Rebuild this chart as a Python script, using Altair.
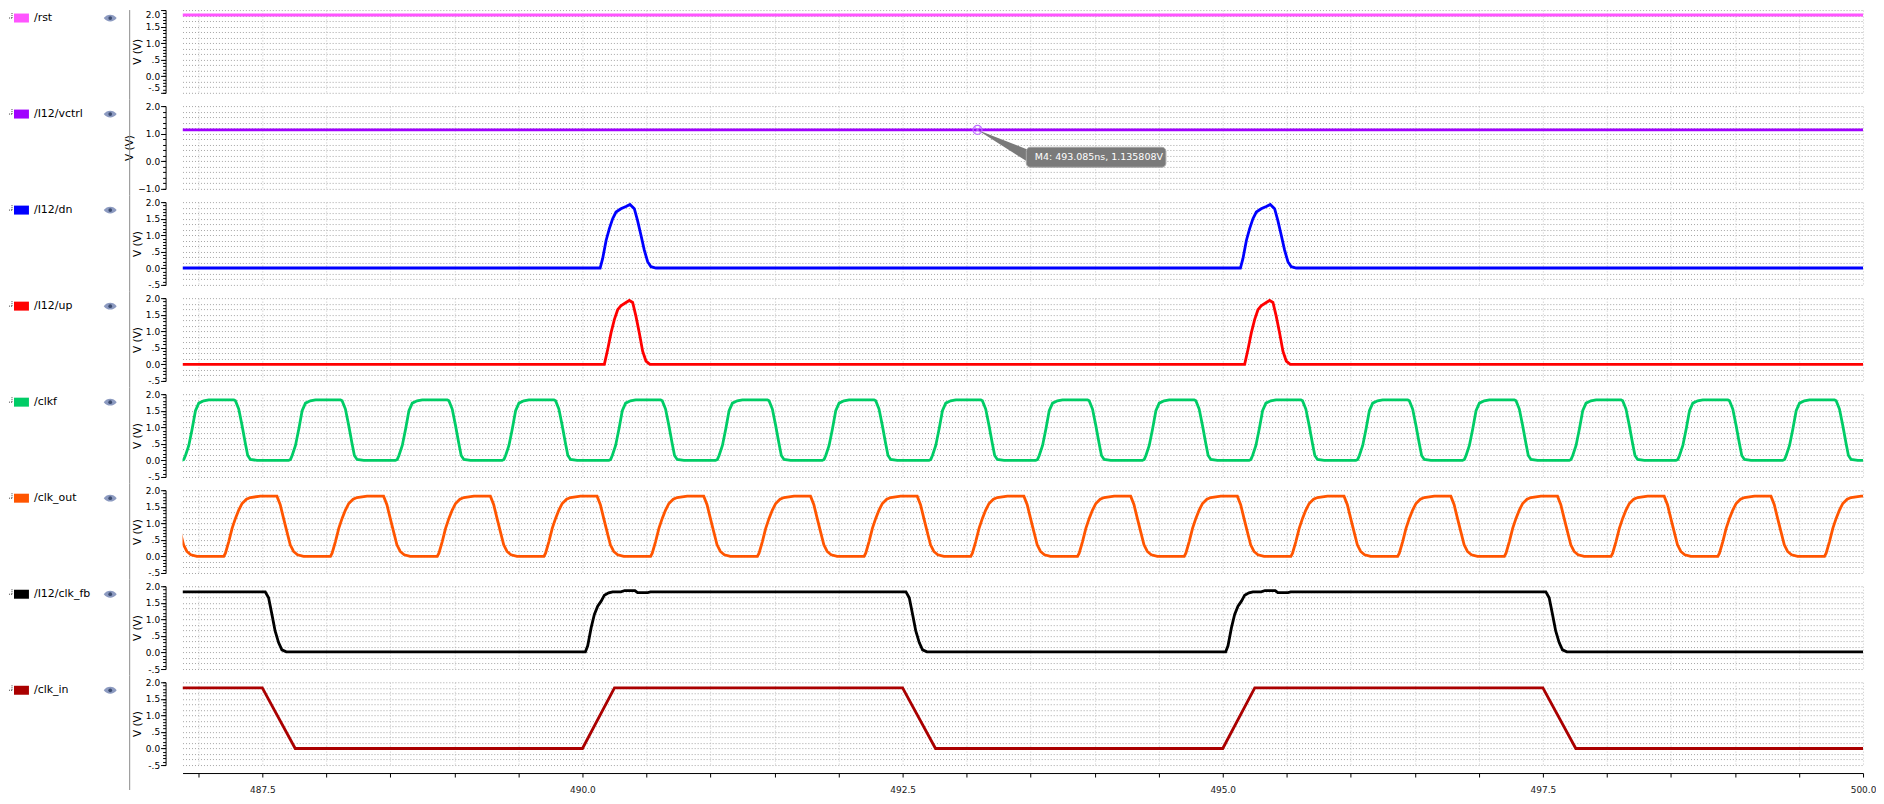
import altair as alt
import pandas as pd

# ---------------- data ----------------
X_DOMAIN = [486.877, 500.0]

NAMES = ["/rst", "/I12/vctrl", "/I12/dn", "/I12/up", "/clkf", "/clk_out", "/I12/clk_fb", "/clk_in"]
COLORS = ["#ff55ff", "#a000ff", "#0000ff", "#ff0000", "#00cc66", "#ff5500", "#000000", "#aa0000"]

RST_T = [486.877, 500.0]
RST_V = [1.85, 1.85]

VCTRL_T = [486.877, 500.0]
VCTRL_V = [1.1358, 1.1358]

# dn / up : pulse start times and pulse shape (offset from start, volts)
DN_STARTS = [490.138, 495.138]
DN_DT = [0.0, 0.02, 0.047, 0.072, 0.098, 0.124, 0.162, 0.202, 0.233, 0.267, 0.292, 0.319, 0.345, 0.371, 0.397, 0.436]
DN_V = [0.01, 0.3, 0.85, 1.2, 1.5, 1.7, 1.8, 1.87, 1.93, 1.8, 1.45, 1.0, 0.55, 0.2, 0.05, 0.01]
DN_BASE = 0.01

UP_STARTS = [490.171, 495.171]
UP_DT = [0.0, 0.026, 0.052, 0.078, 0.104, 0.129, 0.169, 0.195, 0.221, 0.247, 0.273, 0.299, 0.325, 0.356]
UP_V = [0.0, 0.45, 0.95, 1.35, 1.65, 1.77, 1.87, 1.93, 1.87, 1.45, 0.95, 0.4, 0.1, 0.0]
UP_BASE = 0.0

# clkf : rising-edge (mid) times and one-cycle shape
CLKF_RISE = [486.119, 486.952, 487.785, 488.619, 489.452, 490.285, 491.119, 491.952, 492.785,
             493.619, 494.452, 495.285, 496.119, 496.952, 497.785, 498.619, 499.452, 500.285]
CLKF_DT = [-0.08, -0.065, -0.052, -0.026, 0.0, 0.026, 0.052, 0.09, 0.13, 0.325, 0.338, 0.364, 0.39, 0.416, 0.434, 0.455, 0.507]
CLKF_V = [0.0, 0.03, 0.15, 0.45, 0.95, 1.5, 1.73, 1.8, 1.83, 1.83, 1.8, 1.55, 1.05, 0.5, 0.15, 0.03, 0.0]

# clk_out : rise-start times and one-cycle shape
CLKOUT_RISE = [486.366, 487.199, 488.032, 488.866, 489.699, 490.532, 491.366, 492.199, 493.032,
               493.866, 494.699, 495.532, 496.366, 497.199, 498.032, 498.866, 499.699]
CLKOUT_DT = [0.0, 0.013, 0.039, 0.065, 0.091, 0.117, 0.143, 0.177, 0.208, 0.286, 0.415, 0.441, 0.467, 0.493, 0.519, 0.545, 0.576, 0.623]
CLKOUT_V = [0.0, 0.1, 0.45, 0.85, 1.15, 1.4, 1.6, 1.73, 1.78, 1.82, 1.82, 1.56, 1.15, 0.75, 0.35, 0.15, 0.05, 0.0]

# clk_fb : edges and edge shapes
FB_FALLS = [487.523, 492.526, 497.523]
FB_FALL_DT = [0.0, 0.026, 0.052, 0.077, 0.104, 0.13, 0.164]
FB_FALL_V = [1.83, 1.65, 1.15, 0.65, 0.3, 0.08, 0.02]
FB_RISES = [490.023, 495.023]
FB_RISE_DT = [0.0, 0.018, 0.045, 0.07, 0.096, 0.123, 0.148, 0.182, 0.213, 0.277, 0.307, 0.387, 0.407, 0.487, 0.507]
FB_RISE_V = [0.02, 0.2, 0.75, 1.15, 1.4, 1.55, 1.73, 1.8, 1.83, 1.83, 1.87, 1.87, 1.81, 1.81, 1.83]
FB_START = (486.877, 1.83)
FB_END = (500.0, 0.02)

CLKIN_T = [486.877, 487.5, 487.757, 490.0, 490.25, 492.5, 492.757, 495.0, 495.25, 497.5, 497.757, 500.0]
CLKIN_V = [1.83, 1.83, 0.0, 0.0, 1.83, 1.83, 0.0, 0.0, 1.83, 1.83, 0.0, 0.0]

MARKER_T = 493.085
MARKER_V = 1.135808
MARKER_TEXT = "M4: 493.085ns, 1.135808V"


def build(edges, dts, vs):
    t, v = [], []
    for e in edges:
        for d, val in zip(dts, vs):
            t.append(round(e + d, 4))
            v.append(val)
    return t, v


dn_t, dn_v = build(DN_STARTS, DN_DT, DN_V)
dn_t = [X_DOMAIN[0]] + dn_t + [X_DOMAIN[1]]
dn_v = [DN_BASE] + dn_v + [DN_BASE]

up_t, up_v = build(UP_STARTS, UP_DT, UP_V)
up_t = [X_DOMAIN[0]] + up_t + [X_DOMAIN[1]]
up_v = [UP_BASE] + up_v + [UP_BASE]

clkf_t, clkf_v = build(CLKF_RISE, CLKF_DT, CLKF_V)
clkout_t, clkout_v = build(CLKOUT_RISE, CLKOUT_DT, CLKOUT_V)

f_t, f_v = build(FB_FALLS, FB_FALL_DT, FB_FALL_V)
r_t, r_v = build(FB_RISES, FB_RISE_DT, FB_RISE_V)
fb_pts = sorted([FB_START] + list(zip(f_t, f_v)) + list(zip(r_t, r_v)) + [FB_END])
fb_t = [p[0] for p in fb_pts]
fb_v = [p[1] for p in fb_pts]

SERIES = [
    (RST_T, RST_V), (VCTRL_T, VCTRL_V), (dn_t, dn_v), (up_t, up_v),
    (clkf_t, clkf_v), (clkout_t, clkout_v), (fb_t, fb_v), (CLKIN_T, CLKIN_V),
]

# ---------------- styling ----------------
FONT = "DejaVu Sans"
W = 1685
H = 83
SPACING = 13.29
X_TICKS = [487.0 + 0.5 * i for i in range(27)]

STD = dict(domain=[-0.5, 2.0],
           major=[-0.5, 0.0, 0.5, 1.0, 1.5, 2.0],
           minor=[round(-0.5 + 0.1 * i, 2) for i in range(26)],
           grid=[round(-0.5 + i / 6.0, 4) for i in range(16)])
VC = dict(domain=[-1.0, 2.0],
          major=[-1.0, 0.0, 1.0, 2.0],
          minor=[round(-1.0 + 0.2 * i, 2) for i in range(16)],
          grid=[round(-1.0 + 0.2 * i, 2) for i in range(16)])

Y_LABEL_EXPR = ("datum.value == 0.5 ? '.5' : datum.value == -0.5 ? '-.5' : "
                "format(datum.value, '.1f')")


def panel(i):
    name, color = NAMES[i], COLORS[i]
    t, v = SERIES[i]
    cfg = VC if i == 1 else STD
    top = i == 0
    bottom = i == 7
    df = pd.DataFrame({"t": t, "v": v})
    xs = alt.Scale(domain=X_DOMAIN, nice=False, zero=False)
    ys = alt.Scale(domain=cfg["domain"], nice=False, zero=False)

    xgrid = alt.Axis(orient="bottom", values=X_TICKS, grid=True, gridColor="#c8c8c8",
                     gridDash=[1, 2], gridWidth=1, labels=False, ticks=False,
                     domain=False, title=None)
    ygrid = alt.Axis(orient="left", values=cfg["grid"], grid=True, gridColor="#a6a6a6",
                     gridDash=[1, 2], gridWidth=1, labels=False, ticks=False,
                     domain=False, title=None)
    yminor = alt.Axis(orient="left", values=cfg["minor"], grid=False, labels=False,
                      ticks=True, tickSize=3, tickColor="#000000", tickWidth=1,
                      domain=False, offset=17, title=None)
    ymajor_kw = dict(orient="left", values=cfg["major"], grid=False, labels=True,
                     labelExpr=Y_LABEL_EXPR, labelFont=FONT, labelFontSize=9,
                     labelColor="#000000", labelPadding=1, ticks=True, tickSize=5,
                     tickColor="#000000", tickWidth=1, domain=True, domainColor="#000000",
                     domainWidth=1, offset=17, title="V (V)", titleFont=FONT,
                     titleFontSize=10.5, titleFontWeight="normal", titleColor="#000000",
                     titlePadding=3, labelOverlap=False)
    if top:
        ymajor_kw["labelFlush"] = True
    ymajor = alt.Axis(**ymajor_kw)

    base = alt.Chart(df)
    line = base.mark_line(color=color, strokeWidth=2.8, clip=True).encode(
        x=alt.X("t:Q", scale=xs, axis=xgrid, title=None),
        y=alt.Y("v:Q", scale=ys, axis=ygrid, title=None),
    )
    minor_l = base.mark_line(opacity=0, clip=True).encode(
        x=alt.X("t:Q", scale=xs, axis=None),
        y=alt.Y("v:Q", scale=ys, axis=yminor),
    )
    if bottom:
        xlab = alt.Axis(orient="bottom", values=X_TICKS, grid=False, labels=True,
                        labelExpr="datum.value % 2.5 == 0 ? format(datum.value, '.1f') : ''",
                        labelFont=FONT, labelFontSize=9, labelColor="#222222",
                        labelPadding=9, labelFlush=False, labelOverlap=False,
                        ticks=True, tickSize=4, tickColor="#000000", tickWidth=1,
                        domain=True, domainColor="#000000", domainWidth=1,
                        offset=8, title=None)
        major_x = alt.X("t:Q", scale=xs, axis=xlab)
    else:
        major_x = alt.X("t:Q", scale=xs, axis=None)
    major_l = base.mark_line(opacity=0, clip=True).encode(
        x=major_x,
        y=alt.Y("v:Q", scale=ys, axis=ymajor),
    )

    one = alt.Chart(pd.DataFrame({"name": [name]}))
    label = one.mark_text(align="left", baseline="middle", font=FONT, fontSize=11,
                          color="#000000").encode(
        x=alt.value(-149), y=alt.value(8), text="name:N")
    square = one.mark_rect(color=color).encode(
        x=alt.value(-169), x2=alt.value(-154), y=alt.value(3.5), y2=alt.value(12.5))
    conn_h = one.mark_rule(color="#444444", strokeDash=[1, 1], strokeWidth=1).encode(
        x=alt.value(-174), x2=alt.value(-171), y=alt.value(8))
    conn_v = one.mark_rule(color="#444444", strokeDash=[1, 1], strokeWidth=1).encode(
        x=alt.value(-171), y=alt.value(3), y2=alt.value(8))
    eye = one.mark_point(shape="M-1,0C-0.5,-0.7 0.5,-0.7 1,0C0.5,0.7 -0.5,0.7 -1,0Z",
                         filled=True, color="#8c9ac0", size=169, opacity=1).encode(
        x=alt.value(-72.5), y=alt.value(8))
    pupil = one.mark_point(shape="circle", filled=True, color="#3c4c70", size=14,
                           opacity=1).encode(x=alt.value(-72.5), y=alt.value(8))
    sep = one.mark_rule(color="#8c8c8c", strokeWidth=1).encode(
        x=alt.value(-53),
        y=alt.value(0 if top else -SPACING / 2),
        y2=alt.value(108 if bottom else H + SPACING / 2))

    layers = [line, minor_l, major_l, sep, conn_h, conn_v, square, label, eye, pupil]

    if i == 1:
        ptr = alt.Chart(pd.DataFrame({"t": [MARKER_T, 493.47], "y": [MARKER_V, 0.435],
                                      "y2": [MARKER_V, 0.0]})).mark_area(
            color="#7a7a7a", opacity=1).encode(
            x=alt.X("t:Q", scale=xs, axis=None),
            y=alt.Y("y:Q", scale=ys, axis=None), y2="y2:Q")
        box = alt.Chart(pd.DataFrame({"t1": [493.466], "t2": [494.556],
                                      "v1": [0.507], "v2": [-0.215]})).mark_rect(
            color="#7a7a7a", cornerRadius=4, stroke="#a8a8a8", strokeWidth=1).encode(
            x=alt.X("t1:Q", scale=xs, axis=None), x2="t2:Q",
            y=alt.Y("v1:Q", scale=ys, axis=None), y2="v2:Q")
        txt = alt.Chart(pd.DataFrame({"t": [493.532], "v": [0.146],
                                      "s": [MARKER_TEXT]})).mark_text(
            align="left", baseline="middle", color="#ffffff", font=FONT,
            fontSize=9.5).encode(
            x=alt.X("t:Q", scale=xs, axis=None),
            y=alt.Y("v:Q", scale=ys, axis=None), text="s:N")
        mk = alt.Chart(pd.DataFrame({"t": [MARKER_T], "v": [MARKER_V]}))
        circ = mk.mark_point(shape="circle", filled=False, color="#c070ff", size=80,
                             strokeWidth=1.2, opacity=1).encode(
            x=alt.X("t:Q", scale=xs, axis=None), y=alt.Y("v:Q", scale=ys, axis=None))
        cross = mk.mark_point(shape="M-0.7,-0.7L0.7,0.7M-0.7,0.7L0.7,-0.7", filled=False,
                              color="#c070ff", size=60, strokeWidth=1, opacity=1).encode(
            x=alt.X("t:Q", scale=xs, axis=None), y=alt.Y("v:Q", scale=ys, axis=None))
        layers += [ptr, box, txt, circ, cross]

    return alt.layer(*layers).resolve_axis(x="independent", y="independent").properties(
        width=W, height=H)


chart = alt.vconcat(*[panel(i) for i in range(8)], spacing=SPACING, bounds="flush").properties(
    padding=0, background="#ffffff"
).configure_view(strokeWidth=0)

chart.save("out.html", embed_options={"renderer": "svg", "actions": False})
